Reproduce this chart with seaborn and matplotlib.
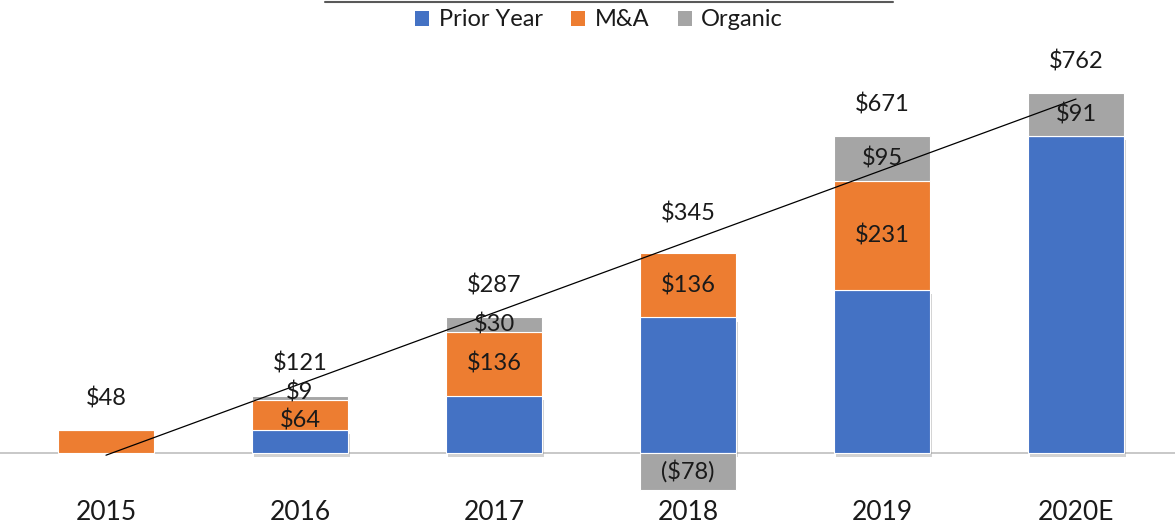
import numpy as np
import pandas as pd
import matplotlib
matplotlib.use('Agg')
import matplotlib.pyplot as plt
import matplotlib.patheffects as pe
from matplotlib.lines import Line2D
from matplotlib.patches import Patch
import seaborn as sns

# data ($)
years = ['2015', '2016', '2017', '2018', '2019', '2020E']
prior_year = [0, 48, 121, 287, 345, 671]
m_and_a = [48, 64, 136, 136, 231, 0]
organic = [0, 9, 30, -78, 95, 91]
totals = [48, 121, 287, 345, 671, 762]

series_colors = {'Prior Year': '#4472C4', 'M&A': '#ED7D31', 'Organic': '#A5A5A5'}

sns.set_theme(style='white')
plt.rcParams['font.family'] = ['Lato', 'DejaVu Sans']
text_color = '#1a1a1a'

prior = np.array(prior_year)
ma = np.array(m_and_a)
org = np.array(organic)
# stacking: positives sit on top of each other, negative organic hangs below zero
bottoms = {
    'Prior Year': np.zeros(len(years)),
    'M&A': prior,
    'Organic': np.where(org >= 0, prior + ma, 0),
}
values = {'Prior Year': prior, 'M&A': ma, 'Organic': org}

fig = plt.figure(figsize=(11.75, 5.29), dpi=100)
px = 0.4724  # pixels per dollar
ax = fig.add_axes([0, 37 / 529, 1, 452 / 529])

for name in ['Prior Year', 'M&A', 'Organic']:
    df = pd.DataFrame({'year': years, 'value': values[name]})
    sns.barplot(data=df, x='year', y='value', order=years, color=series_colors[name],
                saturation=1, width=0.495, errorbar=None, bottom=bottoms[name],
                edgecolor='white', linewidth=0.8, ax=ax)

# soft shadow under the base bars
for p in ax.containers[0].patches:
    p.set_path_effects([pe.SimplePatchShadow(offset=(1.5, -3), shadow_rgbFace='#808080', alpha=0.35),
                        pe.Normal()])

# linear trend of the totals
sns.regplot(x=np.arange(len(years)), y=np.array(totals), scatter=False, ci=None,
            truncate=True, line_kws=dict(color='black', lw=0.9), ax=ax)

ax.axhline(0, color='#bfbfbf', lw=1.2, zorder=0)


def fmt(v):
    return f'${v}' if v >= 0 else f'(${-v})'


# segment labels
for i in range(len(years)):
    if prior[i] == 0:
        continue
    shift_ma, shift_org = 0, 0
    if i == 1:
        shift_ma, shift_org = -5, 5
    if ma[i] != 0:
        ax.annotate(fmt(ma[i]), (i, bottoms['M&A'][i] + ma[i] / 2), xytext=(0, shift_ma),
                    textcoords='offset pixels', ha='center', va='center',
                    fontsize=17, color=text_color)
    if org[i] != 0:
        ax.annotate(fmt(org[i]), (i, bottoms['Organic'][i] + org[i] / 2), xytext=(0, shift_org),
                    textcoords='offset pixels', ha='center', va='center',
                    fontsize=17, color=text_color)

# total labels above the stacks
pos_top = prior + ma + np.clip(org, 0, None)
for i, t in enumerate(totals):
    off = 40 if org[i] < 0 else 32
    ax.annotate(fmt(t), (i, pos_top[i]), xytext=(0, off), textcoords='offset pixels',
                ha='center', va='center', fontsize=17, color=text_color)

ax.set_xlim(-106 / 194, (1175 - 106) / 194)
ax.set_ylim(-39 / px, 413 / px)
ax.set_xticks(range(len(years)))
ax.set_xticklabels(years, fontsize=19, color=text_color)
ax.tick_params(axis='x', length=0, pad=6)
ax.set_yticks([])
ax.set_xlabel('')
ax.set_ylabel('')
sns.despine(ax=ax, left=True, bottom=True)
if ax.get_legend() is not None:
    ax.get_legend().remove()

handles = [Patch(facecolor=c, edgecolor='none') for c in series_colors.values()]
fig.legend(handles, list(series_colors.keys()), loc='center',
           bbox_to_anchor=(599 / 1175, 1 - 20 / 529),
           ncol=3, frameon=False, fontsize=17, handlelength=0.6, handleheight=0.6,
           handletextpad=0.4, columnspacing=1.2, labelcolor=text_color)

fig.add_artist(Line2D([325 / 1175, 893 / 1175], [1 - 2 / 529] * 2, color='#595959', lw=1.5))

fig.savefig('out.png', dpi=100)
